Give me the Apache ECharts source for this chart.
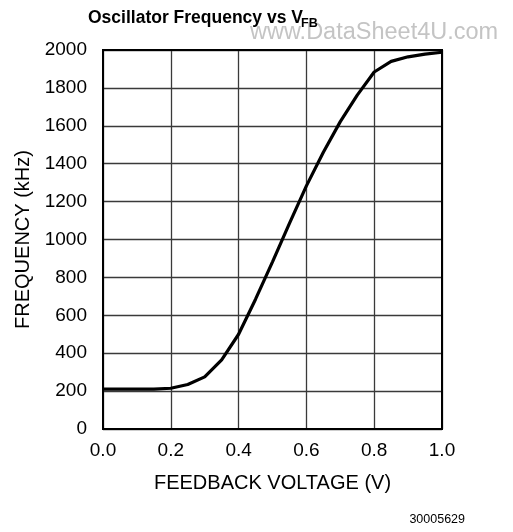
<!DOCTYPE html>
<html>
<head>
<meta charset="utf-8">
<script src="https://cdn.jsdelivr.net/npm/echarts@6/dist/echarts.min.js"></script>
<style>
  html, body { margin: 0; padding: 0; background: #fff; }
  #chart { width: 513px; height: 532px; }
</style>
</head>
<body>
<div id="chart"></div>
<script>
// 数据: 反馈电压 (V) 与振荡频率 (kHz)
const voltage = [0.0, 0.05, 0.1, 0.15, 0.2, 0.25, 0.3, 0.35, 0.4, 0.45, 0.5,
                 0.55, 0.6, 0.65, 0.7, 0.75, 0.8, 0.85, 0.9, 0.95, 1.0];
const frequency = [210, 210, 210, 210, 215, 235, 275, 365, 500, 685, 882,
                   1085, 1283, 1460, 1622, 1762, 1884, 1940, 1964, 1978, 1988];
const xTicks = ['0.0', '0.2', '0.4', '0.6', '0.8', '1.0'];

const font = '"Liberation Sans", Arial, Helvetica, sans-serif';

const chart = echarts.init(document.getElementById('chart'));
chart.setOption({
    backgroundColor: '#fff',
    animation: false,
    grid: {
        left: 103, right: 71, top: 50, bottom: 103,
        show: true,
        borderColor: '#000',
        borderWidth: 2,
        z: 3
    },
    graphic: [
        { type: 'text', left: 88, top: 9, z: 10,
          style: { text: 'Oscillator Frequency vs V', font: 'bold 17.5px ' + font, fill: '#000' } },
        { type: 'text', left: 301, top: 17, z: 10,
          style: { text: 'FB', font: 'bold 12.5px ' + font, fill: '#000' } },
        { type: 'text', left: 250, top: 21, z: 1,
          style: { text: 'www.DataSheet4U.com', font: '23.5px ' + font, fill: '#c4c4c4' } },
        { type: 'text', right: 48, top: 513,
          style: { text: '30005629', font: '12.5px ' + font, fill: '#000' } }
    ],
    xAxis: {
        type: 'value',
        min: 0, max: 1, interval: 0.2,
        name: 'FEEDBACK VOLTAGE (V)',
        nameLocation: 'middle',
        nameGap: 44,
        nameTextStyle: { fontFamily: font, fontSize: 20, color: '#000' },
        axisLine: { show: false },
        axisTick: { show: false },
        axisLabel: {
            margin: 12, fontFamily: font, fontSize: 19, color: '#000',
            formatter: v => xTicks[Math.round(v / 0.2)]
        },
        splitLine: { show: true, lineStyle: { color: '#3a3a3a', width: 1.3 } }
    },
    yAxis: {
        type: 'value',
        min: 0, max: 2000, interval: 200,
        name: 'FREQUENCY (kHz)',
        nameLocation: 'middle',
        nameGap: 69,
        nameTextStyle: { fontFamily: font, fontSize: 20, color: '#000' },
        axisLine: { show: false },
        axisTick: { show: false },
        axisLabel: {
            margin: 16, fontFamily: font, fontSize: 19, color: '#000',
            formatter: v => String(v)
        },
        splitLine: { show: true, lineStyle: { color: '#3a3a3a', width: 1.3 } }
    },
    series: [{
        type: 'line',
        data: voltage.map((v, i) => [v, frequency[i]]),
        symbol: 'none',
        smooth: false,
        lineStyle: { color: '#000', width: 3.2 },
        z: 5
    }]
});
</script>
</body>
</html>
